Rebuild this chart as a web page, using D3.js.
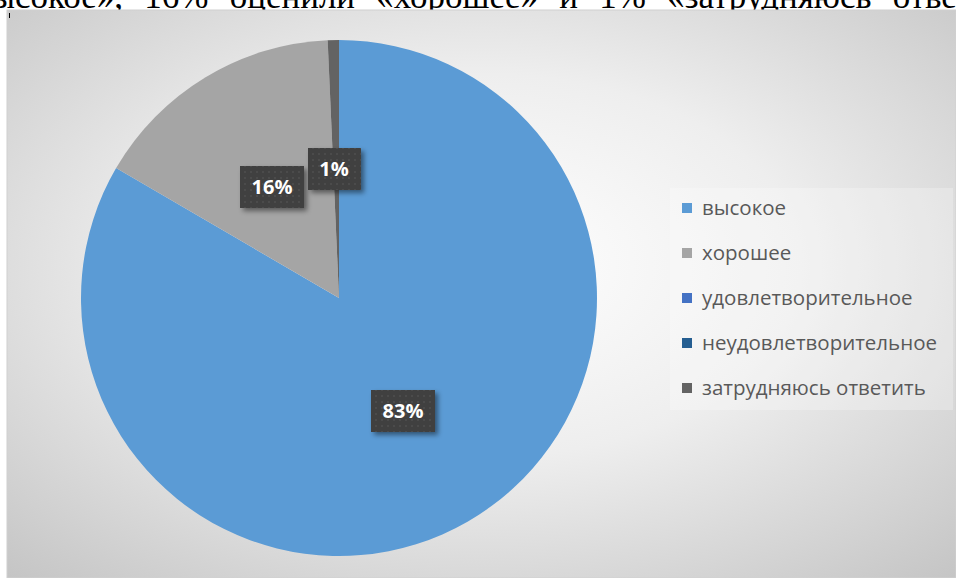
<!DOCTYPE html>
<html>
<head>
<meta charset="utf-8">
<script src="https://cdn.jsdelivr.net/npm/d3@7"></script>
<style>
  body { margin: 0; background: #fff; overflow: hidden; }
  svg { display: block; }
</style>
</head>
<body>
<div id="chart"></div>
<script>
// data
var categories = ["высокое", "хорошее", "удовлетворительное", "неудовлетворительное", "затрудняюсь ответить"];
var values = [83.4, 15.9, 0, 0, 0.7];
var colors = ["#5b9bd5", "#a5a5a5", "#4472c4", "#255e91", "#636363"];
var labelPos = [[403, 411], [272, 187], [0, 0], [0, 0], [334, 169]];

var width = 956, height = 578;

var svg = d3.select("#chart").append("svg")
  .attr("width", width)
  .attr("height", height);

var defs = svg.append("defs");

//background gradient, light in the middle, grey at the edges
var grad = defs.append("radialGradient")
  .attr("id", "bg")
  .attr("cx", "50%").attr("cy", "45%").attr("r", "75%");
grad.append("stop").attr("offset", "0%").attr("stop-color", "#ffffff");
grad.append("stop").attr("offset", "45%").attr("stop-color", "#eeeeee");
grad.append("stop").attr("offset", "100%").attr("stop-color", "#c4c4c4");

var pat = defs.append("pattern")
  .attr("id", "dots")
  .attr("width", 6).attr("height", 6)
  .attr("patternUnits", "userSpaceOnUse");
pat.append("rect").attr("width", 6).attr("height", 6).attr("fill", "#404040");
pat.append("circle").attr("cx", 3).attr("cy", 3).attr("r", 1.1).attr("fill", "#4d4d4d");

var shadow = defs.append("filter")
  .attr("id", "shadow")
  .attr("x", "-20%").attr("y", "-20%").attr("width", "150%").attr("height", "160%");
shadow.append("feDropShadow")
  .attr("dx", 3).attr("dy", 3).attr("stdDeviation", 2.5)
  .attr("flood-color", "#000").attr("flood-opacity", 0.45);

// text of the page above the chart (only its lower part shows, justified line)
svg.append("text")
  .attr("x", -25)
  .attr("y", 8)
  .style("font-family", "'Liberation Serif', 'Times New Roman', serif")
  .style("font-size", "35px")
  .style("word-spacing", "12.5px")
  .style("fill", "#000")
  .text("высокое», 16% оценили «хорошее» и 1% «затрудняюсь ответить»");

// chart area
svg.append("rect")
  .attr("x", 7).attr("y", 10)
  .attr("width", width - 7).attr("height", height - 10)
  .attr("fill", "url(#bg)")
  .attr("stroke", "#d0d0d0")
  .attr("stroke-width", 1);

svg.append("line")
  .attr("x1", 9.5).attr("x2", 9.5).attr("y1", 13).attr("y2", 18)
  .attr("stroke", "#000").attr("stroke-width", 1);

var cx = 339, cy = 298, radius = 258;

var pie = d3.pie().sort(null).value(function(d) { return d; });
var arc = d3.arc().innerRadius(0).outerRadius(radius);

var arcs = pie(values);

var g = svg.append("g").attr("transform", "translate(" + cx + "," + cy + ")");

g.selectAll("path")
  .data(arcs)
  .enter().append("path")
  .attr("d", arc)
  .attr("fill", function(d, i) { return colors[i]; });

// data labels
var lab = svg.selectAll("g.lab")
  .data(arcs.filter(function(d) { return d.value > 0; }))
  .enter().append("g")
  .attr("class", "lab")
  .attr("transform", function(d) {
    var p = labelPos[d.index];
    return "translate(" + p[0] + "," + p[1] + ")";
  });

lab.append("rect")
  .attr("x", function(d) { return d.value < 10 ? -26 : -32; })
  .attr("y", -21)
  .attr("width", function(d) { return d.value < 10 ? 53 : 64; })
  .attr("height", 42)
  .attr("fill", "url(#dots)")
  .attr("filter", "url(#shadow)");

lab.append("text")
  .attr("text-anchor", "middle")
  .attr("dy", "0.36em")
  .style("font-family", "'Open Sans', 'Noto Sans', sans-serif")
  .style("font-weight", "bold")
  .style("font-size", "20px")
  .style("fill", "#fff")
  .text(function(d) { return Math.round(d.value) + "%"; });

// legend
svg.append("rect")
  .attr("x", 670).attr("y", 188)
  .attr("width", 283).attr("height", 222)
  .attr("fill", "#ffffff").attr("opacity", 0.25);

var legend = svg.selectAll("g.leg")
  .data(categories)
  .enter().append("g")
  .attr("class", "leg")
  .attr("transform", function(d, i) { return "translate(682," + (208 + i * 45) + ")"; });

legend.append("rect")
  .attr("x", 0).attr("y", -5)
  .attr("width", 10).attr("height", 10)
  .attr("fill", function(d, i) { return colors[i]; });

legend.append("text")
  .attr("x", 20)
  .attr("dy", "0.35em")
  .style("font-family", "'Open Sans', 'Noto Sans', sans-serif")
  .style("font-size", "20.5px")
  .style("fill", "#595959")
  .text(function(d) { return d; });
</script>
</body>
</html>
